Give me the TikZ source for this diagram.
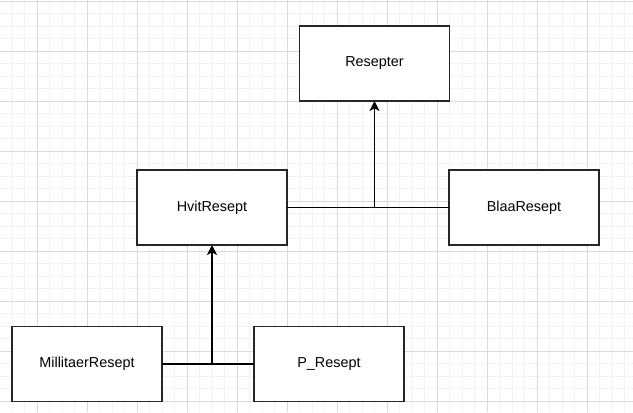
\documentclass[tikz,border=0pt]{standalone}
\usepackage{fontspec}
\setmainfont{Liberation Sans}
\usetikzlibrary{arrows.meta, positioning}

\definecolor{gridminor}{HTML}{F2F2F2}
\definecolor{gridmajor}{HTML}{DADADA}

\begin{document}
\begin{tikzpicture}[
        x=0.75pt, y=-0.75pt,
        box/.style={rectangle, draw=black!85, line width=1.1pt, fill=white, minimum width=112.5pt, minimum height=56.25pt, outer sep=0pt, align=center, font=\fontsize{10.8}{13}\selectfont},
        line/.style={line width=1.2pt},
        arrow/.style={-{Stealth[length=7.5pt, width=7.5pt, inset=2pt]}, line width=1.2pt}
    ]

        % background grid
        \useasboundingbox (0,0) rectangle (633,412);
        \fill[white] (0,0) rectangle (633,412);
        \foreach \gx in {12.3,24.8,...,633} \draw[gridminor, line width=0.75pt] (\gx,0) -- (\gx,412);
        \foreach \gy in {13.5,26,...,412} \draw[gridminor, line width=0.75pt] (0,\gy) -- (633,\gy);
        \foreach \gx in {37.3,87.3,...,633} \draw[gridmajor, line width=0.75pt] (\gx,0) -- (\gx,412);
        \foreach \gy in {1,51,...,412} \draw[gridmajor, line width=0.75pt] (0,\gy) -- (633,\gy);

        % 1. Top class
        \node (resepter) [box] at (374.5,63.5) {Resepter};

        % 2. Middle layer
        \node (hvit) [box] at (212,207.5) {HvitResept};
        \node (blaa) [box, right=121.5pt of hvit] {BlaaResept};

        % 3. Bottom layer
        \node (millitaer) [box] at (87,364) {MillitaerResept};
        \node (presept) [box, right=69pt of millitaer] {P\_Resept};

        % Connections
        \draw [line] (hvit) -- (blaa);
        \draw [arrow] (hvit -| resepter) -- (resepter);

        \draw [line] (millitaer) -- (presept);
        \draw [arrow] (millitaer -| hvit) -- (hvit);

    \end{tikzpicture}
\end{document}
